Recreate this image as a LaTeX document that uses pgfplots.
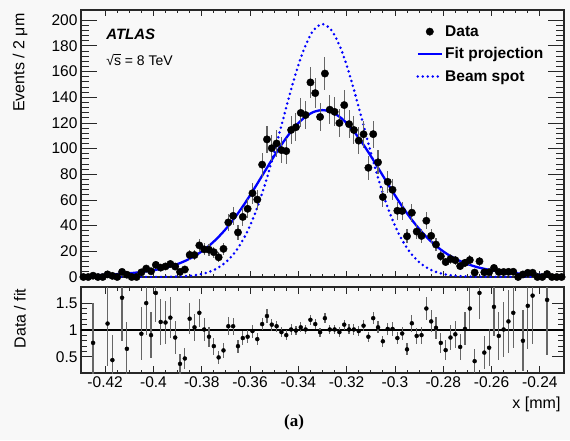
\documentclass[border=0pt]{standalone}
\usepackage{pgfplots}
\pgfplotsset{compat=1.18}
\usepackage{pgfplotstable}
\usepackage{fontspec}
\setmainfont{Liberation Sans}
\newfontfamily\serifface{Liberation Serif}
\definecolor{bgc}{RGB}{248,248,248}
\definecolor{fr}{RGB}{40,40,40}
\definecolor{rootblue}{RGB}{0,0,255}

\pgfplotstableread{
x y e
-0.429 0 0
-0.427 0 0
-0.425 1.02 1.01
-0.423 0 0
-0.421 0 0
-0.419 2.04 1.43
-0.417 0.89 0.94
-0.415 0 0
-0.413 3.98 2.00
-0.411 1.81 1.35
-0.409 0 0
-0.407 0 0
-0.405 3.61 1.90
-0.403 6.57 2.56
-0.401 4.47 2.11
-0.399 9.45 3.07
-0.397 7.31 2.70
-0.395 8.24 2.87
-0.393 10.16 3.19
-0.391 8.14 2.85
-0.389 4.01 2.00
-0.387 5.83 2.41
-0.385 17.22 4.15
-0.383 17.12 4.14
-0.381 24.63 4.96
-0.379 21.53 4.64
-0.377 21.26 4.61
-0.375 19.34 4.40
-0.373 15.34 3.92
-0.371 21.92 4.68
-0.369 42.53 6.52
-0.367 47.64 6.90
-0.365 34.73 5.89
-0.363 46.78 6.84
-0.361 53.13 7.29
-0.359 65.28 8.08
-0.357 60.33 7.77
-0.355 87.55 9.36
-0.353 107.2 10.35
-0.351 100.35 10.02
-0.349 104.04 10.20
-0.347 98.87 9.94
-0.345 98.11 9.91
-0.343 114.54 10.70
-0.341 116.70 10.80
-0.339 127.84 11.31
-0.337 126.2 11.23
-0.335 151.6 12.31
-0.333 143.25 11.97
-0.331 124.7 11.17
-0.329 158.5 12.59
-0.327 130.34 11.42
-0.325 128.67 11.34
-0.323 119.95 10.95
-0.321 133.93 11.57
-0.319 119.06 10.91
-0.317 114.54 10.70
-0.315 106.24 10.31
-0.313 111.23 10.55
-0.311 85.08 9.22
-0.309 111.3 10.55
-0.307 89.33 9.45
-0.305 62.31 7.89
-0.303 74.14 8.61
-0.301 67.94 8.24
-0.299 51.61 7.18
-0.297 51.45 7.17
-0.295 31.75 5.63
-0.293 50.09 7.08
-0.291 35.38 5.95
-0.289 31.99 5.66
-0.287 43.82 6.62
-0.285 32.05 5.66
-0.283 25.27 5.03
-0.281 16.20 4.02
-0.279 11.66 3.41
-0.277 14.02 3.74
-0.275 13.09 3.62
-0.273 8.50 2.92
-0.271 11.05 3.32
-0.269 13.24 3.64
-0.267 3.47 1.86
-0.265 12.22 3.50
-0.263 3.69 1.92
-0.261 3.75 1.94
-0.259 7.06 2.66
-0.257 3.90 1.97
-0.255 3.92 1.98
-0.253 4.03 2.01
-0.251 4.08 2.02
-0.249 0 0
-0.247 1.99 1.41
-0.245 3.25 1.80
-0.243 3.31 1.82
-0.241 0 0
-0.239 0 0
-0.237 2.31 1.52
-0.235 0 0
-0.233 0 0
-0.231 0 0
}\topdata

\pgfplotstableread{
x r e
-0.425 0.76 0.75
-0.419 1.12 0.79
-0.417 0.44 0.47
-0.413 1.60 0.80
-0.411 0.65 0.49
-0.405 0.93 0.49
-0.403 1.50 0.585
-0.401 0.905 0.43
-0.399 1.69 0.55
-0.397 1.15 0.425
-0.395 1.14 0.40
-0.393 1.23 0.386
-0.391 0.86 0.30
-0.389 0.37 0.185
-0.387 0.47 0.195
-0.385 1.21 0.29
-0.383 1.05 0.254
-0.381 1.32 0.266
-0.379 1.01 0.218
-0.377 0.875 0.19
-0.375 0.70 0.159
-0.373 0.49 0.125
-0.371 0.62 0.132
-0.369 1.07 0.164
-0.367 1.07 0.155
-0.365 0.70 0.119
-0.363 0.85 0.124
-0.361 0.875 0.12
-0.359 0.98 0.121
-0.357 0.83 0.107
-0.355 1.11 0.119
-0.353 1.26 0.122
-0.351 1.10 0.110
-0.349 1.07 0.105
-0.347 0.96 0.0965
-0.345 0.905 0.0914
-0.343 1.01 0.0944
-0.341 0.99 0.0916
-0.339 1.05 0.0929
-0.337 1.01 0.0899
-0.335 1.19 0.0966
-0.333 1.11 0.0928
-0.331 0.96 0.086
-0.329 1.22 0.0969
-0.327 1.01 0.0885
-0.325 1.01 0.089
-0.323 0.96 0.0876
-0.321 1.10 0.095
-0.319 1.01 0.0926
-0.317 1.01 0.0944
-0.315 0.98 0.0951
-0.313 1.08 0.1024
-0.311 0.875 0.0949
-0.309 1.22 0.1156
-0.307 1.05 0.111
-0.305 0.79 0.10
-0.303 1.02 0.118
-0.301 1.02 0.124
-0.299 0.85 0.118
-0.297 0.935 0.130
-0.295 0.64 0.114
-0.293 1.125 0.159
-0.291 0.89 0.150
-0.289 0.905 0.160
-0.287 1.40 0.211
-0.285 1.16 0.205
-0.283 1.04 0.207
-0.281 0.76 0.189
-0.279 0.625 0.183
-0.277 0.86 0.23
-0.275 0.92 0.254
-0.273 0.685 0.235
-0.271 1.02 0.307
-0.269 1.40 0.385
-0.267 0.42 0.225
-0.265 1.69 0.484
-0.263 0.58 0.302
-0.261 0.67 0.347
-0.259 1.43 0.538
-0.257 0.89 0.45
-0.255 1.01 0.51
-0.253 1.16 0.579
-0.251 1.32 0.654
-0.247 0.80 0.566
-0.245 1.45 0.80
-0.243 1.64 0.90
-0.237 1.56 1.03
}\ratiodata

\pgfplotstableread{
x fit beam
-0.430 1.04 0
-0.426 1.27 0
-0.422 1.56 0
-0.418 1.91 0
-0.414 2.36 0
-0.410 2.93 0
-0.406 3.66 0.01
-0.402 4.65 0.02
-0.398 5.96 0.05
-0.394 7.73 0.14
-0.390 10.11 0.34
-0.386 13.29 0.76
-0.382 17.43 1.64
-0.378 22.76 3.33
-0.374 29.42 6.38
-0.370 37.50 11.57
-0.366 47.02 19.83
-0.362 57.83 32.11
-0.358 69.64 49.12
-0.354 81.98 71.01
-0.350 94.25 96.99
-0.346 105.76 125.17
-0.342 115.72 152.64
-0.338 123.43 175.88
-0.334 128.32 191.50
-0.330 130.00 197.00
-0.326 128.32 191.50
-0.322 123.43 175.88
-0.318 115.72 152.64
-0.314 105.76 125.17
-0.310 94.25 96.99
-0.306 81.98 71.01
-0.302 69.64 49.12
-0.298 57.83 32.11
-0.294 47.02 19.83
-0.290 37.50 11.57
-0.286 29.42 6.38
-0.282 22.76 3.33
-0.278 17.43 1.64
-0.274 13.29 0.76
-0.270 10.11 0.34
-0.266 7.73 0.14
-0.262 5.96 0.05
-0.258 4.65 0.02
-0.254 3.66 0.01
-0.250 2.93 0
-0.246 2.36 0
-0.242 1.91 0
-0.238 1.56 0
-0.234 1.27 0
-0.230 1.04 0
}\curves

\pgfplotsset{
  rootaxis/.style={
    scale only axis, width=483pt,
    xmin=-0.43, xmax=-0.23,
    xtick={-0.42,-0.40,-0.38,-0.36,-0.34,-0.32,-0.30,-0.28,-0.26,-0.24},
    minor x tick num=3,
    tick align=inside, tick pos=both,
    axis line style={fr, line width=1.2pt},
    every tick/.style={fr, line width=0.9pt},
    /pgf/number format/assume math mode=true,
    tick label style={font=\fontsize{15.5}{18}\selectfont},
    label style={font=\fontsize{16}{19}\selectfont},
  }
}

\begin{document}
\begin{tikzpicture}
\path[use as bounding box, fill=bgc] (-81pt,-67pt) rectangle (489pt,373pt);
\begin{axis}[rootaxis, at={(0pt,96pt)}, anchor=south west, height=267pt,
  ymin=0, ymax=208, ytick={0,20,...,200}, minor y tick num=4,
  xticklabels={},
  major tick length=16pt, minor tick length=8pt,
  x tick style={/pgfplots/major tick length=6pt,/pgfplots/minor tick length=3pt},
  ylabel={Events / 2 μm},
  ylabel style={at={(axis description cs:-0.1263,1)}, anchor=east},
  legend style={at={(axis description cs:0.694,0.95)}, anchor=north west,
    draw=none, fill=none, inner sep=0pt,
    font=\bfseries\fontsize{15.5}{18}\selectfont, row sep=6pt,
    cells={anchor=west}},
  legend image code/.code={\draw[mark repeat=2,mark phase=2,#1] plot coordinates {(0pt,0pt) (12pt,0pt) (24pt,0pt)};},
  reverse legend,
]
\addplot[rootblue, line width=2.8pt, line cap=round, dash pattern=on 0pt off 5pt, smooth] table[x=x, y=beam] {\curves};
\addlegendentry{Beam spot}
\addplot[rootblue, line width=2.3pt, smooth] table[x=x, y=fit] {\curves};
\addlegendentry{Fit projection}
\addplot[black, only marks, mark=*, mark size=3.7pt,
  error bars/.cd, y dir=both, y explicit,
  error bar style={black!60, line width=1.1pt}, error mark=none]
  table[x=x, y=y, y error=e] {\topdata};
\addlegendentry{Data}
\node[anchor=base west, inner sep=0pt, font=\bfseries\itshape\fontsize{15}{18}\selectfont] at (axis description cs:0.052,0.888) {ATLAS};
\node[anchor=base west, inner sep=0pt, font=\fontsize{14}{17}\selectfont] at (axis description cs:0.052,0.792) {√\rlap{\rule[0.74em]{0.5em}{0.06em}}s = 8 TeV};
\end{axis}

\begin{axis}[rootaxis, at={(0pt,0pt)}, anchor=south west, height=86pt,
  ymin=0.2, ymax=1.8, ytick={0.5,1,1.5}, minor y tick num=4,
  major tick length=12pt, minor tick length=6pt,
  x tick style={/pgfplots/major tick length=7pt,/pgfplots/minor tick length=3.5pt},
  ylabel={Data / fit},
  ylabel style={at={(axis description cs:-0.1263,1.02)}, anchor=east},
  xlabel={x [mm]},
  xlabel style={at={(axis description cs:1,-0.407)}, anchor=base east},
]
\addplot[black, line width=1.1pt] coordinates {(-0.43,1) (-0.23,1)};
\addplot[black, only marks, mark=*, mark size=2pt,
  error bars/.cd, y dir=both, y explicit,
  error bar style={black!60, line width=1.2pt}, error mark=none]
  table[x=x, y=r, y error=e] {\ratiodata};
\end{axis}
\node[font=\serifface\bfseries\fontsize{17}{20}\selectfont, anchor=base] at (213pt,-53pt) {(a)};
\end{tikzpicture}
\end{document}
